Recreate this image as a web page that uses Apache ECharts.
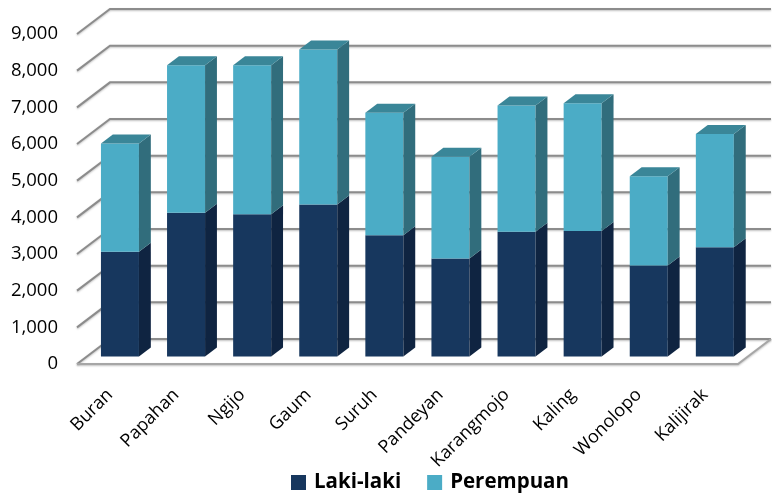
<!DOCTYPE html>
<html>
<head>
<meta charset="utf-8">
<script src="https://cdn.jsdelivr.net/npm/echarts@6/dist/echarts.min.js"></script>
<style>html,body{margin:0;padding:0;background:#fff}#c{width:772px;height:494px}</style>
</head>
<body>
<div id="c"></div>
<script>
const categories = ['Buran','Papahan','Ngijo','Gaum','Suruh','Pandeyan','Karangmojo','Kaling','Wonolopo','Kalijirak'];
const lakiLaki  = [2860, 3920, 3880, 4145, 3310, 2670, 3400, 3425, 2480, 2980];
const perempuan = [2950, 4020, 4060, 4225, 3335, 2775, 3445, 3485, 2435, 3090];
const yTicks = [0,1000,2000,3000,4000,5000,6000,7000,8000,9000];

const DX = 33, DY = -25;      // full depth vector of the 3D box (px)
const FRONT = 0.3, THICK = 0.36;
const BAR_RATIO = 0.575;

const darkFace = {front:'#17375E', side:'#0F2441', top:'#1C416C'};
const lightFace = {front:'#4BACC6', side:'#316D7C', top:'#3A8698'};

function boxRender(face, drawTop){
  return function(params, api){
    const i = api.value(0), lo = api.value(1), hi = api.value(2);
    const band = api.size([1,0])[0];
    const w = band * BAR_RATIO;
    const p0 = api.coord([i, lo]), p1 = api.coord([i, hi]);
    const x = p0[0] + DX*FRONT - w/2;
    const yb = p0[1] + DY*FRONT, yt = p1[1] + DY*FRONT;
    const dx = DX*THICK, dy = DY*THICK;
    const children = [
      {type:'rect', shape:{x:x, y:yt, width:w, height:yb-yt}, style:{fill:face.front}},
      {type:'polygon', shape:{points:[[x+w,yb],[x+w+dx,yb+dy],[x+w+dx,yt+dy],[x+w,yt]]}, style:{fill:face.side}}
    ];
    if (drawTop) children.push({type:'polygon', shape:{points:[[x,yt],[x+dx,yt+dy],[x+w+dx,yt+dy],[x+w,yt]]}, style:{fill:face.top}});
    return {type:'group', children};
  };
}

function gridRender(params, api){
  const v = api.value(0);
  const cs = params.coordSys;
  const y = api.coord([0, v])[1];
  const x0 = cs.x, x1 = cs.x + cs.width;
  const lineStyle = {stroke:'#8C8C8C', lineWidth:2, fill:null, shadowBlur:2, shadowColor:'rgba(0,0,0,0.25)', shadowOffsetY:1};
  const children = [
    {type:'polyline', shape:{points:[[x0,y],[x0+DX,y+DY],[x1+DX,y+DY]]}, style:lineStyle}
  ];
  if (v === 0) {
    children.push({type:'polyline', shape:{points:[[x0,y],[x1,y],[x1+DX,y+DY]]}, style:{stroke:'#A6A6A6', lineWidth:2, fill:null, shadowBlur:2, shadowColor:'rgba(0,0,0,0.25)', shadowOffsetY:1}});
  }
  return {type:'group', children};
}

const chart = echarts.init(document.getElementById('c'));
chart.setOption({
  animation:false,
  backgroundColor:'#fff',
  grid:{left:77, right:34, top:34, bottom:130, containLabel:false},
  xAxis:{type:'category', data:categories, boundaryGap:true,
    axisLine:{show:false}, axisTick:{show:false}, splitLine:{show:false},
    axisLabel:{rotate:45, margin:28, fontFamily:'Open Sans', fontSize:18, color:'#000', interval:0}},
  yAxis:{type:'value', min:0, max:9000, interval:1000,
    axisLine:{show:false}, axisTick:{show:false}, splitLine:{show:false},
    axisLabel:{margin:19, fontFamily:'Open Sans', fontSize:18.5, color:'#000',
      formatter:v=>v.toLocaleString('en-US')}},
  legend:{left:286, top:467, itemWidth:15, itemHeight:15, itemGap:26, icon:'rect',
    textStyle:{fontFamily:'Open Sans', fontWeight:'bold', fontSize:20.5, color:'#000', padding:[0,0,0,3]},
    data:[{name:'Laki-laki', itemStyle:{color:darkFace.front}},{name:'Perempuan', itemStyle:{color:lightFace.front}}]},
  series:[
    {type:'custom', name:'grid', z:1, silent:true, renderItem:gridRender,
      data:yTicks.map(v=>[v]), encode:{y:0}, clip:false},
    {type:'custom', name:'Laki-laki', z:2, itemStyle:{color:darkFace.front},
      renderItem:boxRender(darkFace,false), encode:{x:0, y:2},
      data:lakiLaki.map((v,i)=>[i,0,v]), clip:false},
    {type:'custom', name:'Perempuan', z:3, itemStyle:{color:lightFace.front},
      renderItem:boxRender(lightFace,true), encode:{x:0, y:2},
      data:perempuan.map((v,i)=>[i,lakiLaki[i],lakiLaki[i]+v]), clip:false}
  ]
});
</script>
</body>
</html>
